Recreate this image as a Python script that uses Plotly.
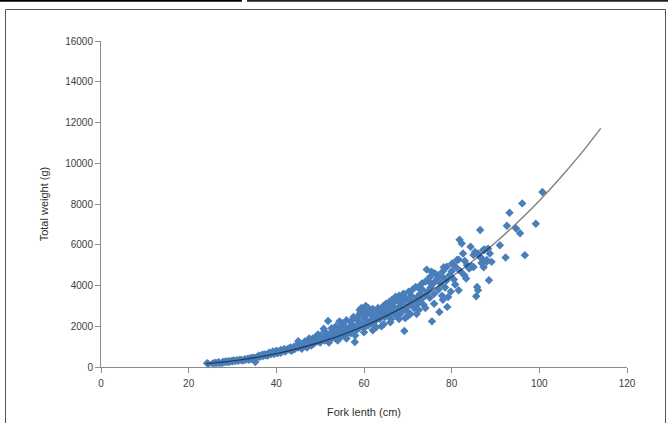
import plotly.graph_objects as go

fork_length_cm = [
    24.2, 24.5, 25.5, 26.0, 26.3, 26.8, 27.0, 27.5, 27.8, 28.0, 28.4, 28.8, 29.0, 29.3, 29.7,
    30.0, 30.2, 30.6, 31.0, 31.3, 31.7, 32.0, 32.4, 32.8, 33.0, 33.5, 33.8, 34.0, 34.4, 34.5,
    34.8, 35.0, 35.2,
    35.5, 36.0, 36.0, 36.4, 36.8, 37.0, 37.3, 37.6, 38.0, 38.0, 38.4, 38.7, 39.0, 39.2, 39.5,
    40.0, 40.0, 40.3, 40.6, 41.0, 41.0, 41.4, 41.8, 42.0, 42.3, 42.7, 43.0, 43.2, 43.5, 43.8,
    44.0, 44.2, 44.6, 45.0, 45.0, 45.4, 45.8,
    46.0, 46.2, 46.5, 46.8, 47.0, 47.2, 47.5, 47.8, 48.0, 48.0, 48.3, 48.6, 48.9, 49.0, 49.3,
    49.6, 50.0, 50.0, 50.2, 50.5, 50.8, 51.0, 51.2, 51.5, 51.8, 52.0, 52.2, 52.5, 52.8, 53.0,
    53.2, 53.5, 53.8, 54.0, 54.4, 54.5, 54.8, 55.0, 55.2, 55.5, 55.8, 56.0, 56.3, 56.6, 57.0,
    57.2, 57.5, 57.9, 58.0, 58.2, 58.5, 58.8, 59.0, 59.2, 59.4, 59.6, 60.0, 60.0, 60.2, 60.5,
    60.8, 61.0, 61.2, 61.5, 61.8, 62.0, 62.3, 62.5, 62.8, 63.0, 63.3, 63.6, 64.0, 64.2, 64.5,
    64.8, 65.0, 65.3, 65.6, 66.0, 66.2, 66.5, 66.8, 67.0, 67.2, 67.5, 67.8, 68.0, 68.2, 68.5,
    68.8, 69.0, 69.2, 69.4, 69.6, 70.0, 70.0, 70.3, 70.6, 71.0, 71.1, 71.4, 71.8, 72.0, 72.2,
    72.5, 72.8, 73.0, 73.3, 73.6, 74.0, 74.3, 74.5, 74.8, 75.0, 75.2, 75.4, 75.5, 75.8, 76.0,
    76.4, 76.6, 77.0, 77.2, 77.5, 77.8, 78.0, 78.2, 78.5, 78.8, 79.0, 79.2, 79.5, 79.8, 80.0,
    80.1, 80.5, 80.8, 81.0, 81.6, 81.6, 81.8, 82.0, 82.3, 82.6, 82.9, 83.0, 83.3, 83.5, 84.0,
    84.3, 84.5, 85.0, 85.0, 85.6, 85.8, 86.0, 86.0, 86.5, 86.8, 87.0, 87.3, 87.5, 88.0, 88.3,
    88.5, 88.7, 89.1, 91.0, 92.3, 92.6, 93.2, 94.7, 95.6, 96.1, 96.7, 99.2, 100.7,
    # denser band, 46-80 cm
    46.5, 47.5, 49.5, 51.0, 52.0, 52.6, 53.6, 54.0, 55.0, 56.0, 56.0, 57.0, 57.6, 58.0, 58.6,
    59.0, 59.8, 60.0, 60.4, 60.9, 61.4, 62.0, 62.0, 62.6, 63.2, 63.8, 64.0, 64.4, 65.0, 65.8,
    66.0, 66.4, 67.2, 68.0, 68.0, 68.6, 69.0, 69.2, 70.0, 70.2, 70.8, 72.0, 72.4, 73.2, 74.0,
    74.0, 75.0, 76.0, 76.0, 77.0, 78.0, 78.0, 78.9, 81.2, 84.6, 85.3, 86.5, 87.2, 88.0,
]
total_weight_g = [
    190, 150, 170, 210, 180, 230, 200, 190, 250, 230, 270, 240, 280, 260, 300,
    280, 320, 290, 330, 310, 360, 340, 320, 380, 360, 400, 350, 430, 410, 460,
    380, 450, 250,
    470, 500, 560, 520, 600, 540, 620, 580, 640, 560, 700, 620, 680, 760, 640,
    720, 800, 680, 760, 830, 700, 780, 880, 760, 820, 900, 840, 960, 800, 920,
    1000, 880, 1050, 1260, 950, 1020, 900,
    980, 1100, 1050, 1180, 960, 1250, 1100, 1320, 1050, 1200, 1400, 1150, 1300, 1480, 1250,
    1380, 1550, 1200, 1350, 1450, 1880, 1300, 1600, 1400, 2260, 1500, 1350, 1700, 1450, 1600,
    1800, 1400, 1650, 1550, 2240, 1900, 1500, 1750, 1600, 2000, 1550, 1800, 1700, 1950, 1650,
    2100, 1850, 1230, 1750, 2000, 2300, 1900, 2600, 2150, 2900, 2000, 2400, 2750, 1950, 2250,
    2600, 2050, 2850, 2300, 2150, 2500, 2700, 2250, 1950, 2450, 2600, 2350, 2550, 2800, 2100,
    2450, 2700, 2900, 2500, 2800, 2350, 3000, 2650, 3200, 2800, 2500, 3300, 2950, 2600, 3100,
    2750, 3200, 1770, 2400, 2900, 3300, 2700, 3050, 2600, 3200, 3800, 2900, 3930, 3400, 3100,
    2800, 3600, 3300, 3800, 3050, 3500, 4780, 3700, 4200, 3400, 3900, 4670, 2240, 4100, 3600,
    4550, 4300, 3800, 2700, 4100, 3500, 4400, 4900, 3900, 4250, 2950, 3440, 4500, 3700, 4700,
    5080, 4300, 4050, 4900, 5270, 3770, 6250, 4700, 6060, 5570, 4500, 5200, 4340, 5000, 4830,
    5900, 4950, 4910, 5500, 3470, 3930, 3770, 5570, 6720, 5100, 5300, 4900, 5770, 5160, 5800,
    4260, 5570, 5160, 5980, 5370, 6930, 7570, 6800, 6560, 8030, 5490, 7030, 8590,
    1250, 1400, 1600, 1750, 1200, 1900, 2000, 1300, 2150, 1400, 2300, 2250, 2450, 1550, 2450,
    2800, 2700, 1700, 3000, 2900, 2750, 2850, 1800, 2600, 2900, 2700, 2000, 3000, 3100, 3200,
    2200, 3300, 3450, 3500, 2350, 3350, 3600, 3450, 2500, 3700, 3500, 2600, 3900, 4100, 4200,
    2900, 4400, 4600, 3100, 4500, 4700, 3300, 4920, 5250, 4920, 5650, 5400, 5740, 5250,
]

# Power trend line
trend_length_cm = [24, 26, 28, 30, 32, 35, 40, 45, 50, 55, 60, 65, 70, 75, 80,
                   85, 90, 95, 100, 105, 110, 114]
trend_weight_g = [161, 201, 246, 298, 356, 455, 656, 908, 1213, 1577, 2003, 2495, 3062,
                  3703, 4423, 5225, 6112, 7087, 8158, 9334, 10610, 11713]

x_ticks = [0, 20, 40, 60, 80, 100, 120]
y_ticks = [0, 2000, 4000, 6000, 8000, 10000, 12000, 14000, 16000]

fig = go.Figure()
fig.add_trace(go.Scatter(
    x=fork_length_cm, y=total_weight_g, mode="markers",
    marker=dict(symbol="diamond", size=6.5, color="#4a7ebb", line=dict(width=0)),
    showlegend=False, cliponaxis=False,
))
fig.add_trace(go.Scatter(
    x=trend_length_cm, y=trend_weight_g, mode="lines",
    line=dict(color="rgba(0,0,0,0.5)", width=1.4, shape="spline"),
    showlegend=False,
))

axis_font = dict(family="Liberation Sans, Arial, sans-serif", size=10, color="#404040")
title_font = dict(family="Liberation Sans, Arial, sans-serif", size=11, color="#303030")

fig.update_xaxes(
    range=[0, 120], tickvals=x_ticks, ticktext=[str(v) for v in x_ticks],
    showline=True, linecolor="#8c8c8c", linewidth=1,
    ticks="outside", ticklen=5, tickcolor="#8c8c8c", ticklabelstandoff=2,
    showgrid=False, zeroline=False, tickfont=axis_font,
    title=dict(text="Fork lenth (cm)", font=title_font, standoff=20),
)
fig.update_yaxes(
    range=[0, 16000], tickvals=y_ticks, ticktext=[str(v) for v in y_ticks],
    showline=True, linecolor="#8c8c8c", linewidth=1,
    ticks="outside", ticklen=5, tickcolor="#8c8c8c",
    showgrid=False, zeroline=False, tickfont=axis_font,
    title=dict(text="Total weight (g)", font=title_font, standoff=14),
)

# decorative frame lines from the source screenshot (paper coordinates)
def px_x(px):
    return (px - 101) / 526.0

def px_y(py):
    return (367 - py) / 326.0

shapes = [
    dict(type="line", xref="paper", yref="paper", x0=px_x(5.5), x1=px_x(5.5),
         y0=px_y(9.5), y1=px_y(430), line=dict(color="#555555", width=1)),
    dict(type="line", xref="paper", yref="paper", x0=px_x(665.5), x1=px_x(665.5),
         y0=px_y(9.5), y1=px_y(430), line=dict(color="#555555", width=1)),
    dict(type="line", xref="paper", yref="paper", x0=px_x(5.5), x1=px_x(665.5),
         y0=px_y(9.5), y1=px_y(9.5), line=dict(color="#555555", width=1)),
    dict(type="line", xref="paper", yref="paper", x0=px_x(-2), x1=px_x(242),
         y0=px_y(0.8), y1=px_y(0.8), line=dict(color="#000000", width=2)),
    dict(type="line", xref="paper", yref="paper", x0=px_x(247), x1=px_x(670),
         y0=px_y(0.8), y1=px_y(0.8), line=dict(color="#222222", width=2)),
]

fig.update_layout(
    width=668, height=423, autosize=False,
    margin=dict(l=101, r=41, t=41, b=56, autoexpand=False),
    paper_bgcolor="white", plot_bgcolor="white",
    shapes=shapes, showlegend=False,
)

fig.write_html(
    "out.html",
    config={"displayModeBar": False},
    post_script="document.body.style.margin='0';document.body.style.overflow='hidden';",
)
